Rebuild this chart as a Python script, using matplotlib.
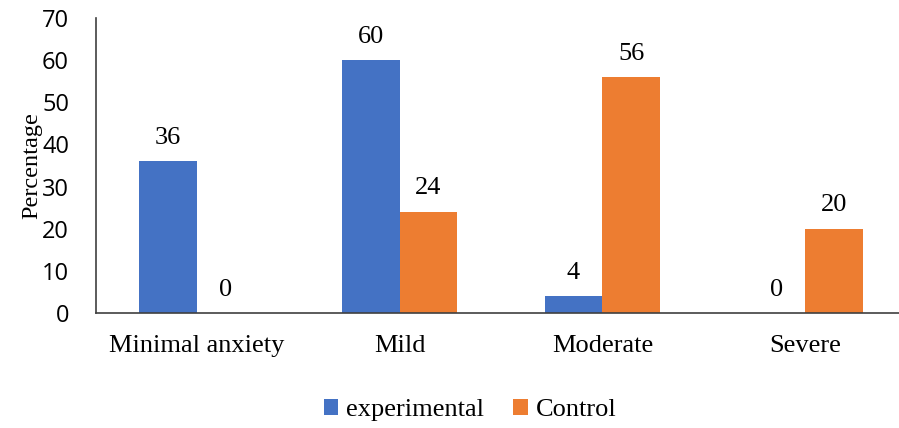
import numpy as np
import matplotlib.pyplot as plt

categories = ['Minimal anxiety', 'Mild', 'Moderate', 'Severe']
experimental = [36, 60, 4, 0]
control = [0, 24, 56, 20]

fig = plt.figure(figsize=(8.99, 4.28), dpi=100)
ax = fig.add_axes([95.5 / 899, 1 - 313 / 428, 811 / 899, 295 / 428])

x = np.arange(len(categories))
w = 0.285
b1 = ax.bar(x - w / 2, experimental, w, color='#4472C4', label='experimental')
b2 = ax.bar(x + w / 2, control, w, color='#ED7D31', label='Control')

for bars in (b1, b2):
    for rect in bars:
        h = rect.get_height()
        ax.annotate(f'{h:g}', (rect.get_x() + rect.get_width() / 2, h),
                    xytext=(0, 9), textcoords='offset points',
                    ha='center', va='bottom', family='Liberation Serif', fontsize=19)

ax.set_xlim(-0.5, 3.5)
ax.set_ylim(0, 70)
ax.set_yticks(range(0, 71, 10))
ax.set_xticks(x)
ax.set_xticklabels(categories, family='Liberation Serif', fontsize=19)
for lab in ax.get_yticklabels():
    lab.set_family('Open Sans')
    lab.set_fontsize(17)
ax.tick_params(axis='both', length=0)
ax.tick_params(axis='y', pad=19)
ax.tick_params(axis='x', pad=16)
ax.set_ylabel('Percentage', family='Liberation Serif', fontsize=17.5, labelpad=0)

for s in ['top', 'right']:
    ax.spines[s].set_visible(False)
ax.spines['left'].set_color('#404040')
ax.spines['bottom'].set_color('#404040')
ax.spines['left'].set_linewidth(1.2)
ax.spines['bottom'].set_linewidth(1.2)

fig.legend(handles=[b1, b2], loc='center', bbox_to_anchor=(470 / 899, 1 - 410 / 428),
           ncol=2, frameon=False, prop={'family': 'Liberation Serif', 'size': 19},
           handlelength=0.55, handleheight=0.55, handletextpad=0.3, columnspacing=1.1)

fig.savefig('out.png', dpi=100)
